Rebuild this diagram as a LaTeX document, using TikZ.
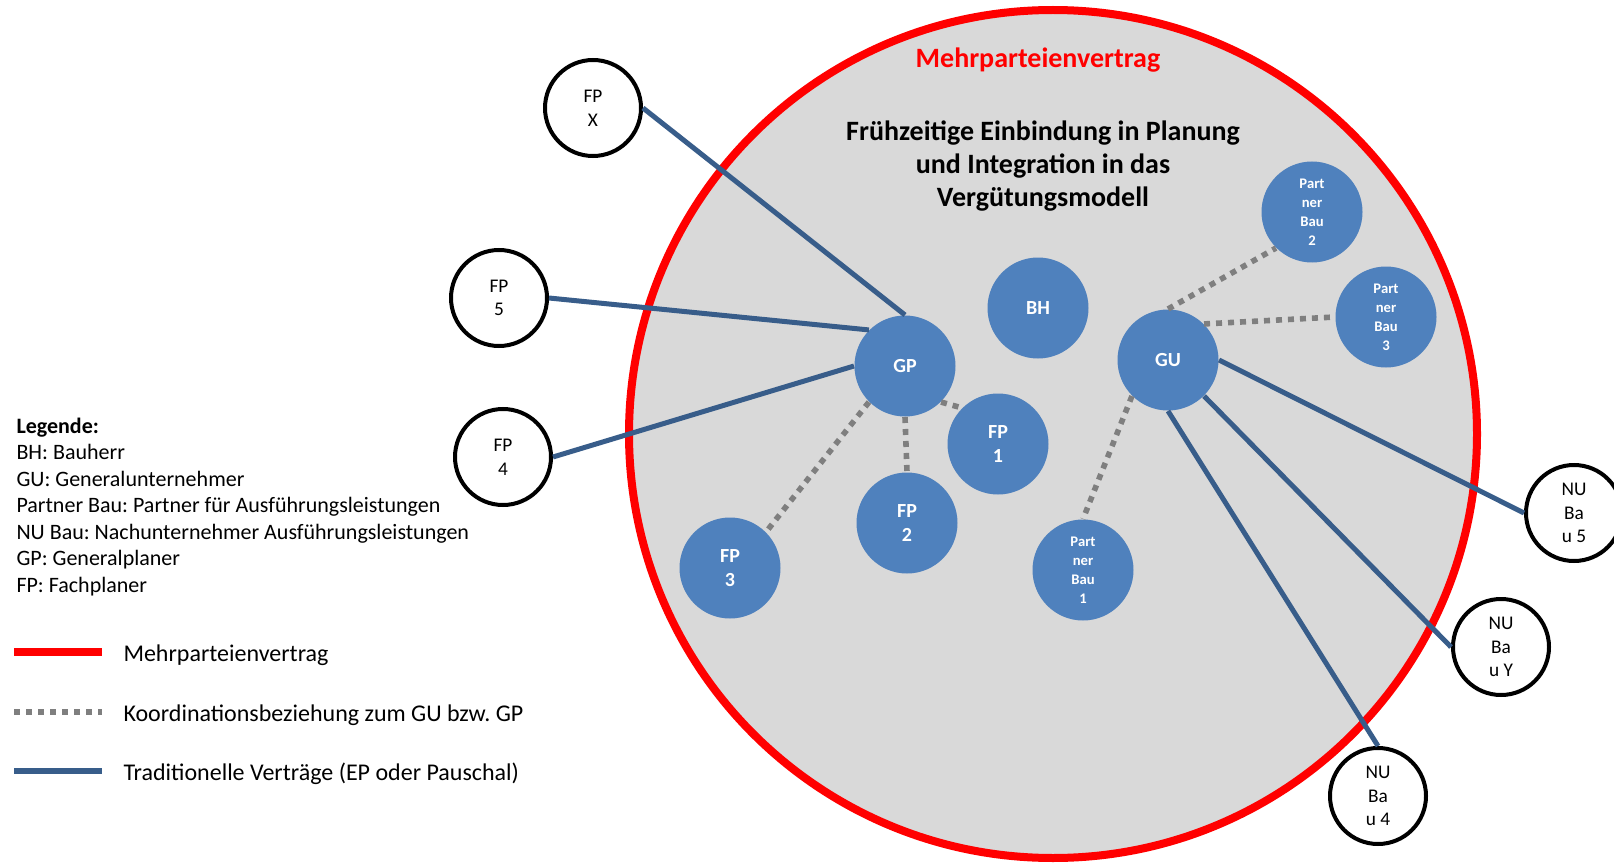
\documentclass[tikz,border=0pt]{standalone}
\usepackage{fontspec}
\setmainfont{Carlito}
\usetikzlibrary{calc}
\tikzset{every picture/.style={line width=0.75pt}}
\definecolor{fillblue}{RGB}{79,129,189}
\definecolor{lineblue}{RGB}{56,93,138}
\definecolor{bggray}{RGB}{217,217,217}
\definecolor{dotgray}{RGB}{127,127,127}
\tikzset{
  party/.style={circle, fill=fillblue, inner sep=0pt, minimum size=75.75pt, text=white, align=center, font=\bfseries\fontsize{15}{18}\selectfont},
  partnerbau/.style={party, font=\bfseries\fontsize{11}{14.25}\selectfont},
  outside/.style={circle, draw=black, line width=3pt, fill=white, inner sep=0pt, minimum size=72pt, align=center, font=\fontsize{14.5}{17.7}\selectfont},
  contract/.style={draw=lineblue, line width=3.75pt},
  coordline/.style={draw=dotgray, line width=4.2pt, dash pattern=on 4.5pt off 4.5pt},
  legtext/.style={anchor=base west, inner sep=0pt, font=\fontsize{16.5}{19.9}\selectfont},
  legentry/.style={anchor=west, inner sep=0pt, font=\fontsize{18}{22}\selectfont}
}

\begin{document}
\frenchspacing
\begin{tikzpicture}[x=0.75pt,y=0.75pt,yscale=-1,xscale=1]
\useasboundingbox (0,0) rectangle (1614,863);

%Shape: Circle [Mehrparteienvertrag]
\draw [draw=red, line width=6pt, fill=bggray] (1053,434) circle [radius=424];

% Text Node
\node [text=red, font=\bfseries\fontsize{21}{25}\selectfont] (mpvtitle) at (1038,60) {Mehrparteienvertrag};
% Text Node
\node [align=center, font=\bfseries\fontsize{21}{25}\selectfont] (aim) at (1043,166) {Frühzeitige Einbindung in Planung\\und Integration in das\\Vergütungsmodell};

%Shape: Circle [inside]
\node [party] (bh) at (1038,308) {BH};
\node [party] (gp) at (905,366) {GP};
\node [party] (gu) at (1168,360) {GU};
\node [party] (fp1) at (998,444) {FP\\1};
\node [party] (fp2) at (907,523) {FP\\2};
\node [party] (fp3) at (730,568) {FP\\3};
\node [partnerbau] (pb1) at (1083,570) {Part\\ner\\Bau\\1};
\node [partnerbau] (pb2) at (1312,212) {Part\\ner\\Bau\\2};
\node [partnerbau] (pb3) at (1386,317) {Part\\ner\\Bau\\3};

%Shape: Circle [outside]
\node [outside] (fpx) at (593,108) {FP\\X};
\node [outside] (fp5) at (499,298) {FP\\5};
\node [outside] (fp4) at (503,457) {FP\\4};
\node [outside] (nu5) at (1574,513) {NU\\Ba\\u 5};
\node [outside] (nuy) at (1501,647) {NU\\Ba\\u Y};
\node [outside] (nu4) at (1378,796) {NU\\Ba\\u 4};

%Straight Lines [traditional]
\draw [contract] (fpx.east) -- (gp.north);
\draw [contract] (fp5.east) -- (gp.north west);
\draw [contract] (fp4.east) -- (gp.west);
\draw [contract] (gu.east) -- (nu5.west);
\draw [contract] (gu.south east) -- (nuy.west);
\draw [contract] (gu.south) -- (nu4.north);

%Straight Lines [coordination]
\draw [coordline] (gp.south west) -- (fp3.north east);
\draw [coordline] (gp.south) -- (fp2.north);
\draw [coordline] (gp.south east) -- (fp1.north west);
\draw [coordline] (gu.north) -- (pb2.south west);
\draw [coordline] (gu.north east) -- (pb3.west);
\draw [coordline] (gu.south west) -- (pb1.north);

% Text Node
\node [legtext, font=\bfseries\fontsize{16.5}{19.9}\selectfont] (leg0) at (16,433) {Legende:};
\foreach \txt [count=\i] in {BH: Bauherr, GU: Generalunternehmer, Partner Bau: Partner für Ausführungsleistungen, NU Bau: Nachunternehmer Ausführungsleistungen, GP: Generalplaner, FP: Fachplaner}
  \node [legtext] (leg\i) at (16,433+26.5*\i) {\txt};

%Straight Lines [legend]
\coordinate (kred) at (14,652);
\coordinate (kgray) at (14,712);
\coordinate (kblue) at (14,771);
\draw [draw=red, line width=5.75pt] (kred) -- ++(88,0);
\draw [coordline] (kgray) -- ++(88,0);
\draw [contract, line width=4.25pt] (kblue) -- ++(88,0);

% Text Node
\node [legentry] (keyred) at (123,655) {Mehrparteienvertrag};
\node [legentry] (keygray) at (123,715) {Koordinationsbeziehung zum GU bzw. GP};
\node [legentry] (keyblue) at (123,774) {Traditionelle Verträge (EP oder Pauschal)};

\end{tikzpicture}
\end{document}
